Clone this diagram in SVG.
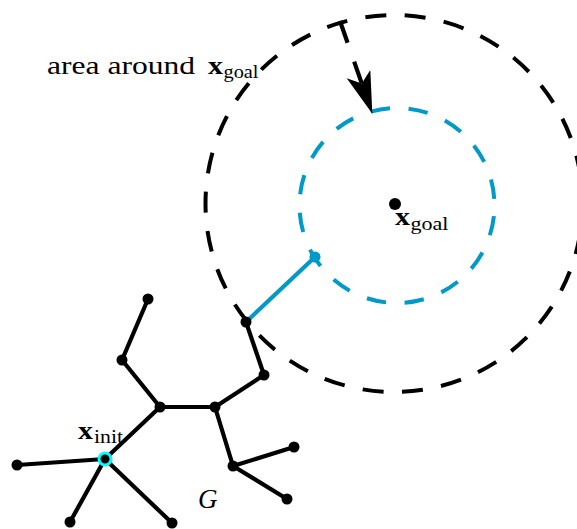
<svg xmlns="http://www.w3.org/2000/svg" width="577" height="529" viewBox="0 0 577 529">
<style>
.e{stroke:#000;stroke-width:4.2;fill:none;stroke-linecap:round}
.n{fill:#000}
.t{font-family:"Liberation Serif",serif;fill:#000}
.b{font-weight:bold}
</style>
<defs>
<marker id="ah" markerWidth="42" markerHeight="26" refX="10" refY="12.5" orient="auto" markerUnits="userSpaceOnUse">
<path d="M0,0 L42,12.5 L0,25 L10,12.5 Z" fill="#000"/>
</marker>
</defs>
<rect width="577" height="529" fill="#fff"/>
<g id="regions">
<circle cx="394" cy="203.5" r="188.5" fill="none" stroke="#000" stroke-width="4" stroke-dasharray="21 18.48" stroke-dashoffset="9.4"/>
<circle cx="397" cy="205.5" r="97.5" fill="none" stroke="#0099c8" stroke-width="4" stroke-dasharray="19.5 18.8" stroke-dashoffset="27.5"/>
</g>
<g id="connectors">
<line class="e" x1="148" y1="299" x2="122" y2="360"/>
<line class="e" x1="122" y1="360" x2="160" y2="407"/>
<line class="e" x1="160" y1="407" x2="215" y2="407"/>
<line class="e" x1="215" y1="407" x2="264" y2="375"/>
<line class="e" x1="264" y1="375" x2="246" y2="322"/>
<line x1="246" y1="322" x2="315" y2="257" stroke="#0099c8" stroke-width="4.2"/>
<line class="e" x1="160" y1="407" x2="105" y2="459"/>
<line class="e" x1="105" y1="459" x2="17" y2="465"/>
<line class="e" x1="105" y1="459" x2="70" y2="522"/>
<line class="e" x1="105" y1="459" x2="172" y2="523"/>
<line class="e" x1="215" y1="407" x2="233" y2="466"/>
<line class="e" x1="233" y1="466" x2="294" y2="447"/>
<line class="e" x1="233" y1="466" x2="287" y2="499"/>
<line x1="340" y1="21" x2="361.8" y2="83.5" stroke="#000" stroke-width="4.2" stroke-dasharray="23 20" marker-end="url(#ah)"/>
</g>
<g id="nodes">
<circle class="n" cx="148" cy="299" r="5.5"/>
<circle class="n" cx="122" cy="360" r="5.5"/>
<circle class="n" cx="160" cy="407" r="5.5"/>
<circle class="n" cx="215" cy="407" r="5.5"/>
<circle class="n" cx="264" cy="375" r="5.5"/>
<circle class="n" cx="246" cy="322" r="5.5"/>
<circle cx="315" cy="257" r="5.5" fill="#0099c8"/>
<circle class="n" cx="17" cy="465" r="5.5"/>
<circle class="n" cx="70" cy="522" r="5.5"/>
<circle class="n" cx="172" cy="523" r="5.5"/>
<circle class="n" cx="233" cy="466" r="5.5"/>
<circle class="n" cx="294" cy="447" r="5.5"/>
<circle class="n" cx="287" cy="499" r="5.5"/>
<circle class="n" cx="395" cy="204" r="6"/>
<circle cx="105" cy="459" r="6" fill="#000" stroke="#00ffff" stroke-width="3"/>
</g>
<g id="labels">
<text class="t" x="47" y="73.5" font-size="25" textLength="148" lengthAdjust="spacingAndGlyphs">area around</text>
<text class="t b" x="208" y="73.5" font-size="26" textLength="15" lengthAdjust="spacingAndGlyphs">x</text>
<text class="t" x="223.5" y="77.5" font-size="18" textLength="35" lengthAdjust="spacingAndGlyphs">goal</text>
<text class="t b" x="395" y="225" font-size="26" textLength="15" lengthAdjust="spacingAndGlyphs">x</text>
<text class="t" x="410.5" y="230" font-size="18" textLength="38" lengthAdjust="spacingAndGlyphs">goal</text>
<text class="t b" x="78" y="438.5" font-size="26" textLength="15" lengthAdjust="spacingAndGlyphs">x</text>
<text class="t" x="94" y="443" font-size="18" textLength="29" lengthAdjust="spacingAndGlyphs">init</text>
<text class="t" x="198" y="508" font-size="27" font-style="italic">G</text>
</g>
</svg>
